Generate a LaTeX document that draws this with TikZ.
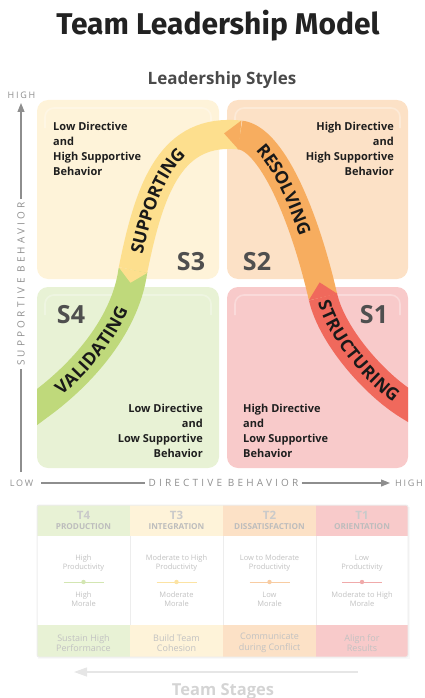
\documentclass[tikz,border=0pt]{standalone}
\usepackage{fontspec}
\setmainfont{Open Sans}
\newfontfamily\titlefont{Fira Sans}
\usetikzlibrary{arrows.meta,calc,decorations.text}

\definecolor{qyellow}{HTML}{FEF3D9}
\definecolor{qpeach}{HTML}{FCE1C6}
\definecolor{qgreen}{HTML}{E8F2D5}
\definecolor{qpink}{HTML}{F8CACA}
\definecolor{bgreen}{HTML}{BFD97B}
\definecolor{byellow}{HTML}{FDDF8E}
\definecolor{borange}{HTML}{F7AD5F}
\definecolor{bred}{HTML}{F0695C}
\definecolor{axisgray}{HTML}{8E8E8E}
\definecolor{sgray}{HTML}{4F4F4F}
\definecolor{titlegray}{HTML}{222222}
\definecolor{subgray}{HTML}{4A4A4A}
\definecolor{fadetext}{HTML}{C2C2C2}
\definecolor{fadehead}{HTML}{BDBDBD}
\definecolor{tableline}{HTML}{EDEDED}
\definecolor{dgreen}{HTML}{D3E6B2}
\definecolor{dyellow}{HTML}{FCE3A3}
\definecolor{dpeach}{HTML}{F8CCA2}
\definecolor{dpink}{HTML}{F0AAAA}
\definecolor{stagegray}{HTML}{D4D4D4}
\definecolor{stageline}{HTML}{E6E6E6}

\newcommand\bandfont{\fontsize{17.5}{17.5}\selectfont\bfseries}

\begin{document}
\begin{tikzpicture}[x=1pt,y=-1pt,
  quad/.style={rounded corners=11pt},
  qtext/.style={font=\fontsize{11}{15.3}\selectfont\bfseries, text=black!88, inner sep=0pt},
  slabel/.style={font=\fontsize{25}{25}\selectfont\bfseries, text=sgray, inner sep=0pt},
  band/.style={line width=29pt},
  axisline/.style={draw=axisgray, line width=1.1pt},
  axistip/.style={-{Triangle[length=9pt,width=7pt]}},
  axislabel/.style={font=\fontsize{10}{10}\selectfont\addfontfeature{LetterSpace=32}, text=axisgray, inner sep=3pt},
  endlabel/.style={font=\fontsize{9}{9}\selectfont\addfontfeature{LetterSpace=20}, text=axisgray, inner sep=0pt},
  gloss/.style={draw=white, opacity=0.3, line width=1.6pt, rounded corners=9pt},
  thead/.style={font=\fontsize{11.5}{11.5}\selectfont\bfseries, text=fadehead!80, inner sep=0pt},
  tsub/.style={font=\fontsize{8.2}{8.2}\selectfont\bfseries, text=fadehead, inner sep=0pt},
  tbody/.style={font=\fontsize{7.5}{9}\selectfont, text=fadetext, align=center, inner sep=0pt},
  tfoot/.style={font=\fontsize{9}{10.5}\selectfont, text=fadetext, align=center, inner sep=0pt},
  bandtext/.style={decorate, decoration={text along path, text color=black!90, raise=-6.3pt, text align={left indent=#1}}},
]
\useasboundingbox (0,0) rectangle (424,698);

% titles
\node[font=\titlefont\fontsize{30}{30}\selectfont\bfseries, text=titlegray, anchor=base, inner sep=0pt] (title) at (218,35) {Team Leadership Model};
\node[font=\fontsize{17}{17}\selectfont\bfseries, text=subgray, anchor=base, inner sep=0pt] (subtitle) at (222,85) {Leadership Styles};

% quadrants
\fill[qyellow, quad] (37,100) rectangle (219,279);
\fill[qpeach, quad] (227,100) rectangle (408,279);
\fill[qgreen, quad] (37,287) rectangle (219,468);
\fill[qpink, quad] (227,287) rectangle (408,468);
\draw[gloss] (45,128) |- (211,108) -- (211,128);
\draw[gloss] (235,128) |- (400,108) -- (400,128);
\draw[gloss] (45,315) |- (211,295) -- (211,315);
\draw[gloss] (235,315) |- (400,295) -- (400,315);

% band geometry
\coordinate (A0) at (25,416);
\coordinate (As) at (37,407);
\coordinate (A1) at (75,380);
\coordinate (A2) at (125,330);
\coordinate (J1) at (133,270);
\coordinate (B1) at (150,185);
\coordinate (B2) at (172,128);
\coordinate (J2) at (240,135);
\coordinate (C1) at (270,138);
\coordinate (C2) at (303,210);
\coordinate (J3) at (323,297);
\coordinate (D1) at (332,336);
\coordinate (D2) at (374,384);
\coordinate (De) at (408,405);
\coordinate (D3) at (421,413);

\begin{scope}
\clip (37,0) rectangle (408,698);
\draw[band, bgreen] (A0) -- (As) .. controls (A1) and (A2) .. (J1);
\draw[band, byellow] (J1) .. controls (B1) and (B2) .. (J2);
\draw[band, borange] (J2) .. controls (C1) and (C2) .. (J3);
\draw[band, bred] (J3) .. controls (D1) and (D2) .. (De) -- (D3);
\fill[byellow] ($(J1)!14.6pt!90:(B1)$) -- ($(J1)!-13pt!(B1)$) -- ($(J1)!14.6pt!-90:(B1)$) -- cycle;
\fill[borange] ($(J2)!14.6pt!90:(C1)$) -- ($(J2)!-16pt!(C1)$) -- ($(J2)!14.6pt!-90:(C1)$) -- cycle;
\fill[bred] ($(J3)!14.6pt!90:(D1)$) -- ($(J3)!-15pt!(D1)$) -- ($(J3)!14.6pt!-90:(D1)$) -- cycle;
\end{scope}

\path[bandtext=26pt, decoration={text={|\bandfont|VALIDATING}}] (As) .. controls (A1) and (A2) .. (J1);
\path[bandtext=17pt, decoration={text={|\bandfont|SUPPORTING}}] (J1) .. controls (B1) and (B2) .. (J2);
\path[bandtext=24pt, decoration={text={|\bandfont|RESOLVING}}] (J2) .. controls (C1) and (C2) .. (J3);
\path[bandtext=4pt, decoration={text={|\bandfont|STRUCTURING}}] (J3) .. controls (D1) and (D2) .. (De) -- (D3);

% style labels
\node[slabel] (s3) at (191,262) {S3};
\node[slabel] (s2) at (257,262) {S2};
\node[slabel] (s4) at (71,315) {S4};
\node[slabel] (s1) at (374,315) {S1};

% quadrant texts
\node[qtext, anchor=north west, align=left] (tltext) at (53,121.5) {Low Directive\\and\\High Supportive\\Behavior};
\node[qtext, anchor=north east, align=right] (trtext) at (394,121.5) {High Directive\\and\\High Supportive\\Behavior};
\node[qtext, anchor=north east, align=right] (bltext) at (203,403.5) {Low Directive\\and\\Low Supportive\\Behavior};
\node[qtext, anchor=north west, align=left] (brtext) at (243,403.5) {High Directive\\and\\Low Supportive\\Behavior};

% axes
\node[endlabel] (vhighlab) at (21.5,95) {HIGH};
\node[endlabel] (vlowlab) at (21.5,483) {LOW};
\node[endlabel] (hhighlab) at (409,483) {HIGH};
\node[axislabel, rotate=90] (vtext) at (21,284) {SUPPORTIVE BEHAVIOR};
\node[axislabel] (htext) at (223.5,483) {DIRECTIVE BEHAVIOR};
\coordinate (vbot) at (21,472);
\coordinate (vtip) at (21,103);
\coordinate (hleft) at (41,483);
\coordinate (htip) at (390,483);
\draw[axisline] (vbot) -- (vtext.west);
\draw[axisline, axistip, fill=axisgray] (vtext.east) -- (vtip);
\draw[axisline] (hleft) -- (htext.west);
\draw[axisline, axistip, fill=axisgray] (htext.east) -- (htip);

% table
\fill[black, opacity=0.025] (38,507) rectangle (410,659);
\fill[white] (37,505) rectangle (408,657);
\fill[qgreen] (37,505) rectangle (130,536);
\fill[qyellow] (130,505) rectangle (223,536);
\fill[qpeach] (223,505) rectangle (316,536);
\fill[qpink] (316,505) rectangle (408,536);
\fill[qgreen] (37,625) rectangle (130,657);
\fill[qyellow] (130,625) rectangle (223,657);
\fill[qpeach] (223,625) rectangle (316,657);
\fill[qpink] (316,625) rectangle (408,657);
\draw[tableline, line width=1pt] (130,536) -- (130,625) (223,536) -- (223,625) (316,536) -- (316,625);
\draw[tableline, line width=1pt, rounded corners=2pt] (37,505) rectangle (408,657);

\node[thead] (t4) at (83.5,515) {T4};
\node[thead] (t3) at (176.5,515) {T3};
\node[thead] (t2) at (269.5,515) {T2};
\node[thead] (t1) at (362,515) {T1};
\node[tsub] (t4s) at (83.5,527) {PRODUCTION};
\node[tsub] (t3s) at (176.5,527) {INTEGRATION};
\node[tsub] (t2s) at (269.5,527) {DISSATISFACTION};
\node[tsub] (t1s) at (362,527) {ORIENTATION};

\node[tbody] (p4) at (83.5,563.5) {High\\Productivity};
\node[tbody] (p3) at (176.5,563.5) {Moderate to High\\Productivity};
\node[tbody] (p2) at (269.5,563.5) {Low to Moderate\\Productivity};
\node[tbody] (p1) at (362,563.5) {Low\\Productivity};
\node[tbody] (m4) at (83.5,599.5) {High\\Morale};
\node[tbody] (m3) at (176.5,599.5) {Moderate\\Morale};
\node[tbody] (m2) at (269.5,599.5) {Low\\Morale};
\node[tbody] (m1) at (362,599.5) {Moderate to High\\Morale};

\draw[dgreen, line width=0.8pt] (63.5,582) -- (103.5,582);
\fill[dgreen] (83.5,582) circle (2.2pt);
\draw[dyellow, line width=0.8pt] (156.5,582) -- (196.5,582);
\fill[dyellow] (176.5,582) circle (2.2pt);
\draw[dpeach, line width=0.8pt] (249.5,582) -- (289.5,582);
\fill[dpeach] (269.5,582) circle (2.2pt);
\draw[dpink, line width=0.8pt] (342,582) -- (382,582);
\fill[dpink] (362,582) circle (2.2pt);

\node[tfoot] (f4) at (83.5,643) {Sustain High\\Performance};
\node[tfoot] (f3) at (176.5,643) {Build Team\\Cohesion};
\node[tfoot] (f2) at (269.5,643) {Communicate\\during Conflict};
\node[tfoot] (f1) at (362,643) {Align for\\Results};

% team stages arrow
\coordinate (stR) at (358,672);
\coordinate (stL) at (74,672);
\draw[stageline, line width=1.3pt, -{Triangle[length=13pt,width=9pt]}] (stR) -- (stL);
\node[font=\fontsize{16.5}{16.5}\selectfont\bfseries, text=stagegray, anchor=base, inner sep=0pt] (stages) at (223,695) {Team Stages};
\end{tikzpicture}
\end{document}
